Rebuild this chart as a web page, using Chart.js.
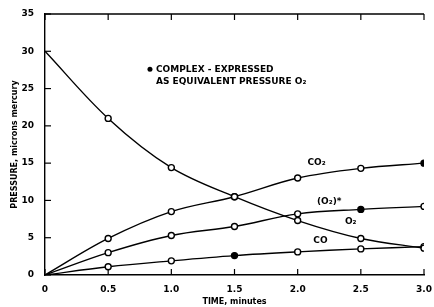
<!DOCTYPE html>
<html><head><meta charset="utf-8">
<script src="https://cdn.jsdelivr.net/npm/chart.js@4/dist/chart.umd.min.js"></script>
<style>html,body{margin:0;padding:0;background:#fff}#w{width:434px;height:307px}</style>
</head><body><div id="w"><canvas id="c"></canvas></div>
<script>
const times = [0, 0.5, 1.0, 1.5, 2.0, 2.5, 3.0];
const o2Values = [30, 21.0, 14.4, 10.5, 7.3, 4.9, 3.6];
const co2Values = [0, 4.9, 8.5, 10.5, 13.0, 14.3, 15.0];
const o2StarValues = [0, 3.0, 5.3, 6.5, 8.2, 8.8, 9.2];
const coValues = [0, 1.1, 1.9, 2.6, 3.1, 3.5, 3.8];
const co2Filled = [false, false, false, false, false, false, true];
const o2StarFilled = [false, false, false, false, false, true, false];
const coFilled = [false, false, false, true, false, false, false];
const o2Filled = [false, false, false, false, false, false, false];
const xTicks = [0, 0.5, 1.0, 1.5, 2.0, 2.5, 3.0];
const yTicks = [0, 5, 10, 15, 20, 25, 30, 35];
const labels = [
  {text: 'CO₂', x: 2.15, y: 15.0},
  {text: '(O₂)*', x: 2.25, y: 9.9},
  {text: 'O₂', x: 2.42, y: 7.2},
  {text: 'CO', x: 2.18, y: 4.6}
];
const noteLines = ['COMPLEX - EXPRESSED', 'AS EQUIVALENT PRESSURE O₂'];
const noteAt = {x: 0.815, y: 27.6, dy: 1.65};

function mk(vals, filled){
  return {
    data: times.map((t,i)=>({x:t,y:vals[i]})),
    borderColor:'#000', borderWidth:1.4,
    pointRadius: vals.map((v,i)=> i===0?0:3),
    pointBackgroundColor: filled.map(f=> f?'#000':'#fff'),
    pointBorderColor:'#000', pointBorderWidth:1.4,
    tension:0.35, fill:false
  };
}
const FONT = 'bold 9px "DejaVu Sans", sans-serif';
const deco = {
  id:'deco',
  afterDraw(ch){
    const c=ch.ctx, x=ch.scales.x, y=ch.scales.y, a=ch.chartArea;
    c.save();
    c.strokeStyle='#000'; c.lineWidth=1.4;
    c.beginPath(); c.moveTo(a.left,a.top); c.lineTo(a.right,a.top); c.stroke();
    c.lineWidth=1.2;
    xTicks.forEach(t=>{ const px=x.getPixelForValue(t);
      c.beginPath(); c.moveTo(px,a.top); c.lineTo(px,a.top+6); c.stroke();
      c.beginPath(); c.moveTo(px,a.bottom); c.lineTo(px,a.bottom-6); c.stroke(); });
    yTicks.forEach(t=>{ const py=y.getPixelForValue(t);
      c.beginPath(); c.moveTo(a.left,py); c.lineTo(a.left+6,py); c.stroke(); });
    c.fillStyle='#000'; c.font=FONT; c.textBaseline='middle'; c.textAlign='center';
    labels.forEach(l=> c.fillText(l.text, x.getPixelForValue(l.x), y.getPixelForValue(l.y)));
    c.textAlign='left';
    const nx=x.getPixelForValue(noteAt.x);
    noteLines.forEach((s,i)=>{ c.fillText(s, nx+8, y.getPixelForValue(noteAt.y - i*noteAt.dy)); });
    c.beginPath(); c.arc(nx+2, y.getPixelForValue(noteAt.y), 2.5, 0, Math.PI*2); c.fill();
    c.restore();
  }
};
new Chart(document.getElementById('c'),{
  type:'line',
  data:{datasets:[mk(o2Values,o2Filled),mk(co2Values,co2Filled),mk(o2StarValues,o2StarFilled),mk(coValues,coFilled)]},
  options:{
    responsive:true, maintainAspectRatio:false, animation:false,
    layout:{padding:{top:14,right:10,left:0,bottom:0}},
    plugins:{legend:{display:false},tooltip:{enabled:false}},
    scales:{
      x:{type:'linear',min:0,max:3,
        afterBuildTicks(s){s.ticks=xTicks.map(v=>({value:v}));},
        afterFit(s){s.height=32;},
        grid:{display:false}, border:{display:true,color:'#000',width:1.4},
        ticks:{color:'#000',font:{family:'"DejaVu Sans", sans-serif',size:9,weight:'bold'},padding:1,maxRotation:0,
          callback:v=> v===0?'0':v.toFixed(1)},
        title:{display:true,text:'TIME, minutes',color:'#000',font:{family:'"DejaVu Sans", sans-serif',size:8,weight:'bold'},padding:{top:0,bottom:0}}},
      y:{type:'linear',min:0,max:35,
        afterBuildTicks(s){s.ticks=yTicks.map(v=>({value:v}));},
        afterFit(s){s.width=45;},
        grid:{display:false}, border:{display:true,color:'#000',width:1.4},
        ticks:{color:'#000',font:{family:'"DejaVu Sans", sans-serif',size:9,weight:'bold'},padding:3},
        title:{display:true,text:'PRESSURE, microns mercury',color:'#000',font:{family:'"DejaVu Sans", sans-serif',size:8,weight:'bold'},padding:{top:10,bottom:2}}}
    }
  },
  plugins:[deco]
});
</script></body></html>
